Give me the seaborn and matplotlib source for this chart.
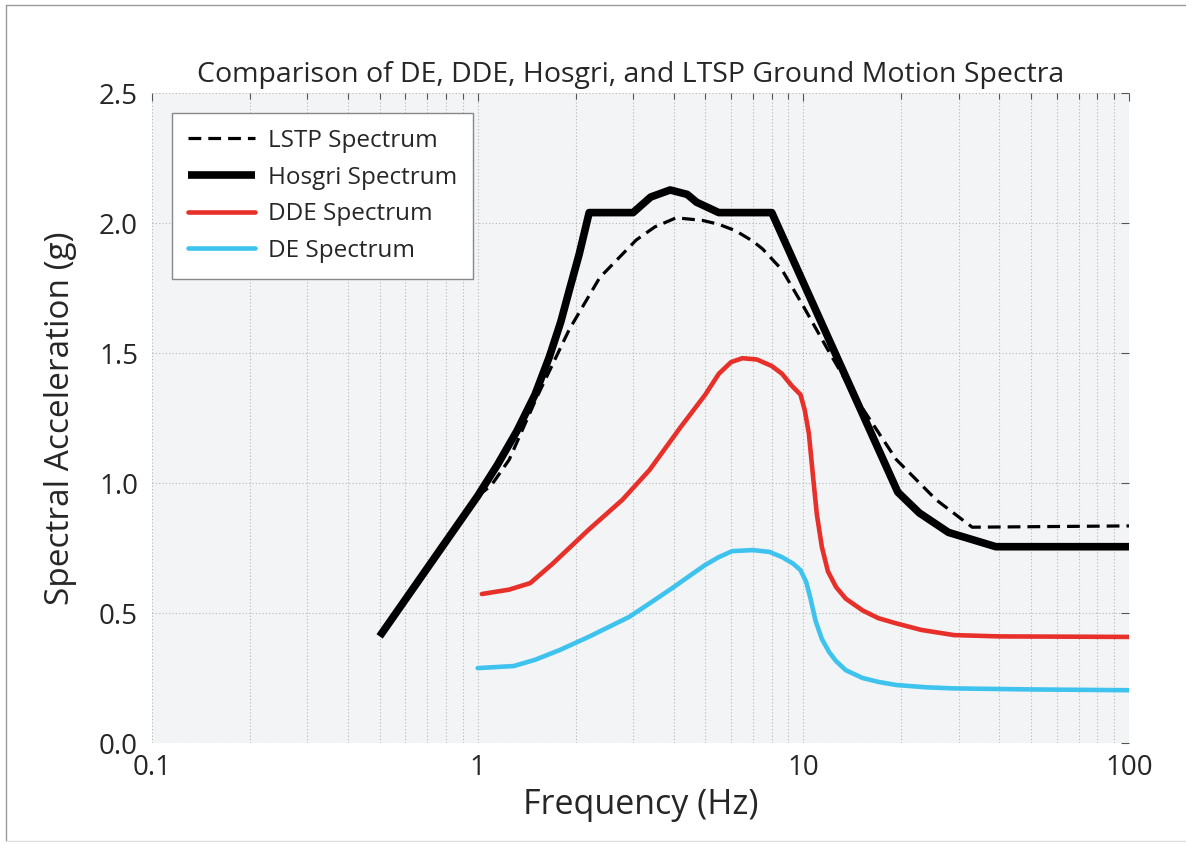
import numpy as np
import pandas as pd
import seaborn as sns
import matplotlib.pyplot as plt
from matplotlib.ticker import FixedLocator, FixedFormatter, LogLocator, NullFormatter

# Spectra (frequency in Hz, acceleration in g)
lstp_f = [1.0, 1.1, 1.25, 1.52, 1.91, 2.37, 3.07, 3.5, 4.07, 4.9, 5.5, 6.2, 7.0, 7.5, 8.6, 10, 11.8, 14.6, 19.3, 25.6, 33, 100]
lstp_sa = [0.95, 0.99, 1.09, 1.33, 1.59, 1.79, 1.935, 1.985, 2.02, 2.01, 1.995, 1.97, 1.93, 1.90, 1.82, 1.68, 1.52, 1.32, 1.09, 0.935, 0.83, 0.835]

hosgri_f = [0.5, 1.0, 1.15, 1.32, 1.5, 1.66, 1.8, 1.91, 2.05, 2.2, 3.0, 3.4, 3.9, 4.4, 4.7, 5.5, 8.0, 19.5, 22.7, 27.9, 39, 100]
hosgri_sa = [0.41, 0.95, 1.07, 1.20, 1.34, 1.485, 1.62, 1.74, 1.88, 2.04, 2.04, 2.10, 2.127, 2.11, 2.08, 2.04, 2.04, 0.965, 0.885, 0.81, 0.755, 0.755]

dde_f = [1.03, 1.25, 1.45, 1.7, 2.19, 2.78, 3.37, 4.2, 5.0, 5.5, 6.0, 6.5, 7.2, 8.0, 8.6, 9.2, 9.8, 10.1, 10.4, 10.7, 11.0, 11.4,
         11.9, 12.6, 13.5, 15.2, 17, 19.3, 23, 29, 40, 100]
dde_sa = [0.573, 0.59, 0.615, 0.69, 0.82, 0.935, 1.05, 1.215, 1.34, 1.42, 1.465, 1.48, 1.475, 1.45, 1.42, 1.375, 1.34, 1.28, 1.19, 1.03,
          0.88, 0.754, 0.66, 0.60, 0.555, 0.51, 0.48, 0.46, 0.435, 0.415, 0.41, 0.408]

de_f = [1.0, 1.29, 1.5, 1.79, 2.19, 2.92, 3.4, 3.96, 4.5, 5.0, 5.5, 6.05, 7.0, 7.87, 8.6, 9.3, 9.8, 10.2, 10.5, 10.9, 11.4, 12.0,
        12.6, 13.5, 15.2, 17, 19.3, 24, 29, 50, 100]
de_sa = [0.288, 0.296, 0.32, 0.358, 0.408, 0.485, 0.54, 0.596, 0.645, 0.685, 0.715, 0.738, 0.742, 0.735, 0.715, 0.69, 0.665, 0.62,
         0.56, 0.47, 0.40, 0.35, 0.315, 0.28, 0.25, 0.235, 0.223, 0.214, 0.21, 0.206, 0.203]

x_ticks = [0.1, 1, 10, 100]
x_labels = ['0.1', '1', '10', '100']
y_ticks = [0.0, 0.5, 1.0, 1.5, 2.0, 2.5]

sns.set_style('white')
plt.rcParams['font.family'] = ['Open Sans', 'DejaVu Sans']

fig = plt.figure(figsize=(11.86, 8.42), dpi=100)
ax = fig.add_axes([152 / 1186, 99 / 842, 977 / 1186, 650 / 842])
ax.set_facecolor('#f3f4f6')
ax.set_xscale('log')

sns.lineplot(x=lstp_f, y=lstp_sa, ax=ax, color='black', lw=2.3, linestyle=(0, (4, 2.2)),
             label='LSTP Spectrum', sort=False)
sns.lineplot(x=hosgri_f, y=hosgri_sa, ax=ax, color='black', lw=5.5, label='Hosgri Spectrum', sort=False,
             solid_capstyle='butt')
sns.lineplot(x=dde_f, y=dde_sa, ax=ax, color='#e8302a', lw=3.3, label='DDE Spectrum', sort=False)
sns.lineplot(x=de_f, y=de_sa, ax=ax, color='#3ec3ee', lw=3.3, label='DE Spectrum', sort=False)

ax.set_xlim(0.1, 100)
ax.set_ylim(0, 2.5)
ax.xaxis.set_major_locator(FixedLocator(x_ticks))
ax.xaxis.set_major_formatter(FixedFormatter(x_labels))
ax.xaxis.set_minor_locator(LogLocator(base=10, subs=np.arange(2, 10)))
ax.xaxis.set_minor_formatter(NullFormatter())
ax.set_yticks(y_ticks)
ax.set_yticklabels([f'{v:.1f}' for v in y_ticks])

ax.grid(True, which='major', color='#b5b5b5', linestyle=(0, (1, 2)), lw=0.8)
ax.grid(True, which='minor', axis='x', color='#b5b5b5', linestyle=(0, (1, 2)), lw=0.8)
for s in ax.spines.values():
    s.set_visible(False)
ax.tick_params(which='both', direction='in', top=True, right=True, color='#555555', width=0.8)
ax.tick_params(which='major', length=6, labelsize=20)
ax.tick_params(axis='y', which='major', pad=10)
ax.tick_params(axis='x', which='major', pad=8)
ax.tick_params(which='minor', length=4)

ax.set_xlabel('Frequency (Hz)', fontsize=24.5, labelpad=4)
ax.set_ylabel('Spectral Acceleration (g)', fontsize=24, labelpad=16)
ax.set_title('Comparison of DE, DDE, Hosgri, and LTSP Ground Motion Spectra', fontsize=20.5, pad=8, x=0.49)

leg = ax.legend(loc='upper left', bbox_to_anchor=(0.0205, 0.969), borderaxespad=0,
                fontsize=17.5, frameon=True, fancybox=False, edgecolor='#888888',
                handlelength=2.75, handletextpad=0.53, labelspacing=0.52, borderpad=0.65)
leg.get_frame().set_linewidth(1.0)
leg.get_frame().set_facecolor('white')
leg.get_frame().set_alpha(1)

# thin frame round the picture like the reference
fig.add_artist(plt.Line2D([6 / 1186, 1], [1 - 5 / 842, 1 - 5 / 842], transform=fig.transFigure, color='#999999', lw=1))
fig.add_artist(plt.Line2D([6 / 1186, 6 / 1186], [1 / 842, 1 - 5 / 842], transform=fig.transFigure, color='#999999', lw=1))
fig.add_artist(plt.Line2D([6 / 1186, 1], [1 / 842, 1 / 842], transform=fig.transFigure, color='#dddddd', lw=1))

fig.savefig('out.png', dpi=100)
